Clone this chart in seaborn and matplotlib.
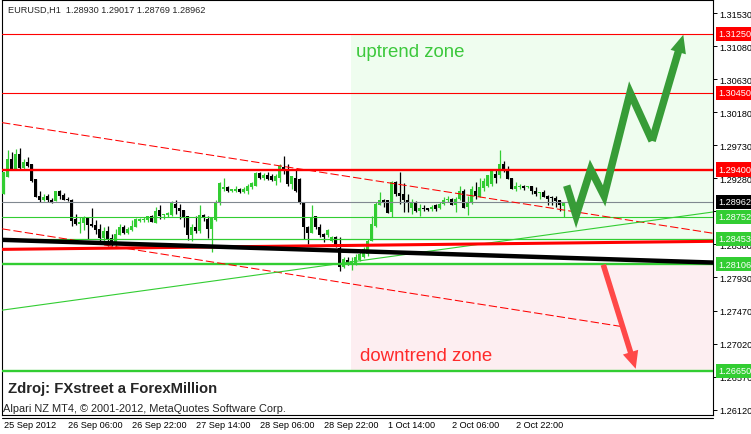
import numpy as np
import pandas as pd
import seaborn as sns
import matplotlib.pyplot as plt
from matplotlib.patches import FancyArrowPatch
from matplotlib.lines import Line2D

# EURUSD H1 candles (oldest first)
opens = [1.2906, 1.2930, 1.2954, 1.2941, 1.2961, 1.2942, 1.2950, 1.2948, 1.2927, 1.2904,
         1.2899, 1.2904, 1.2899, 1.2897, 1.2910, 1.2905, 1.2900, 1.2898, 1.2872, 1.2866,
         1.2867, 1.2875, 1.2866, 1.2864, 1.2859, 1.2846, 1.2856, 1.2846, 1.2838, 1.2851,
         1.2861, 1.2854, 1.2858, 1.2862, 1.2870, 1.2871, 1.2871, 1.2877, 1.2867, 1.2885,
         1.2878, 1.2878, 1.2878, 1.2893, 1.2888, 1.2885, 1.2876, 1.2851, 1.2862, 1.2856,
         1.2878, 1.2873, 1.2859, 1.2871, 1.2894, 1.2913, 1.2916, 1.2910, 1.2910, 1.2914,
         1.2909, 1.2910, 1.2916, 1.2917, 1.2935, 1.2929, 1.2933, 1.2931, 1.2924, 1.2929,
         1.2944, 1.2939, 1.2920, 1.2929, 1.2927, 1.2894, 1.2862, 1.2854, 1.2876, 1.2861,
         1.2852, 1.2850, 1.2842, 1.2848, 1.2833, 1.2807, 1.2817, 1.2812, 1.2810, 1.2816,
         1.2820, 1.2824, 1.2843, 1.2863, 1.2892, 1.2898, 1.2898, 1.2882, 1.2923, 1.2908,
         1.2906, 1.2898, 1.2888, 1.2895, 1.2884, 1.2888, 1.2888, 1.2886, 1.2892, 1.2888,
         1.2893, 1.2898, 1.2900, 1.2892, 1.2900, 1.2911, 1.2889, 1.2895, 1.2911, 1.2903,
         1.2915, 1.2918, 1.2920, 1.2934, 1.2933, 1.2948, 1.2939, 1.2929, 1.2914, 1.2916,
         1.2918, 1.2916, 1.2917, 1.2910, 1.2908, 1.2909, 1.2904, 1.2903, 1.2901, 1.2898,
         1.2890]
highs = [1.2936, 1.2966, 1.2964, 1.2968, 1.2969, 1.2954, 1.2957, 1.2948, 1.2927, 1.2911,
         1.2907, 1.2906, 1.2901, 1.2910, 1.2912, 1.2908, 1.2902, 1.2900, 1.2879, 1.2875,
         1.2877, 1.2875, 1.2888, 1.2871, 1.2865, 1.2861, 1.2863, 1.2852, 1.2859, 1.2866,
         1.2864, 1.2861, 1.2871, 1.2874, 1.2874, 1.2875, 1.2877, 1.2878, 1.2889, 1.2891,
         1.2879, 1.2882, 1.2897, 1.2898, 1.2893, 1.2885, 1.2877, 1.2866, 1.2876, 1.2891,
         1.2879, 1.2877, 1.2875, 1.2898, 1.2923, 1.2928, 1.2918, 1.2914, 1.2917, 1.2915,
         1.2916, 1.2920, 1.2923, 1.2936, 1.2936, 1.2935, 1.2936, 1.2934, 1.2934, 1.2947,
         1.2959, 1.2948, 1.2931, 1.2939, 1.2929, 1.2895, 1.2863, 1.2891, 1.2877, 1.2866,
         1.2854, 1.2859, 1.2849, 1.2849, 1.2848, 1.2820, 1.2820, 1.2820, 1.2825, 1.2827,
         1.2834, 1.2845, 1.2876, 1.2895, 1.2909, 1.2900, 1.2898, 1.2924, 1.2924, 1.2936,
         1.2921, 1.2907, 1.2900, 1.2897, 1.2893, 1.2891, 1.2888, 1.2891, 1.2893, 1.2895,
         1.2902, 1.2904, 1.2901, 1.2903, 1.2917, 1.2914, 1.2904, 1.2918, 1.2923, 1.2929,
         1.2929, 1.2933, 1.2941, 1.2939, 1.2967, 1.2952, 1.2945, 1.2929, 1.2923, 1.2920,
         1.2919, 1.2918, 1.2918, 1.2916, 1.2909, 1.2912, 1.2905, 1.2904, 1.2904, 1.2899,
         1.2896]
lows = [1.2906, 1.2930, 1.2941, 1.2941, 1.2941, 1.2941, 1.2944, 1.2923, 1.2902, 1.2895,
        1.2897, 1.2895, 1.2894, 1.2897, 1.2900, 1.2898, 1.2897, 1.2863, 1.2864, 1.2853,
        1.2857, 1.2845, 1.2861, 1.2852, 1.2843, 1.2843, 1.2836, 1.2836, 1.2834, 1.2850,
        1.2852, 1.2852, 1.2856, 1.2861, 1.2868, 1.2869, 1.2869, 1.2868, 1.2867, 1.2873,
        1.2873, 1.2875, 1.2877, 1.2879, 1.2873, 1.2861, 1.2844, 1.2843, 1.2853, 1.2854,
        1.2870, 1.2846, 1.2828, 1.2870, 1.2891, 1.2911, 1.2909, 1.2909, 1.2909, 1.2908,
        1.2908, 1.2907, 1.2914, 1.2917, 1.2927, 1.2926, 1.2926, 1.2924, 1.2919, 1.2923,
        1.2934, 1.2918, 1.2913, 1.2909, 1.2893, 1.2845, 1.2838, 1.2853, 1.2859, 1.2848,
        1.2841, 1.2848, 1.2841, 1.2834, 1.2802, 1.2806, 1.2809, 1.2803, 1.2809, 1.2815,
        1.2819, 1.2822, 1.2842, 1.2862, 1.2891, 1.2889, 1.2880, 1.2875, 1.2904, 1.2893,
        1.2882, 1.2882, 1.2879, 1.2882, 1.2876, 1.2884, 1.2883, 1.2884, 1.2884, 1.2886,
        1.2891, 1.2895, 1.2891, 1.2882, 1.2898, 1.2888, 1.2878, 1.2893, 1.2900, 1.2902,
        1.2911, 1.2916, 1.2918, 1.2921, 1.2929, 1.2936, 1.2927, 1.2913, 1.2911, 1.2914,
        1.2912, 1.2915, 1.2906, 1.2904, 1.2900, 1.2902, 1.2891, 1.2891, 1.2889, 1.2884,
        1.2875]
closes = [1.2936, 1.2954, 1.2941, 1.2961, 1.2942, 1.2950, 1.2945, 1.2925, 1.2902, 1.2899,
          1.2903, 1.2898, 1.2896, 1.2910, 1.2904, 1.2899, 1.2898, 1.2870, 1.2866, 1.2869,
          1.2875, 1.2864, 1.2863, 1.2858, 1.2846, 1.2856, 1.2845, 1.2837, 1.2852, 1.2861,
          1.2853, 1.2859, 1.2863, 1.2873, 1.2873, 1.2873, 1.2876, 1.2869, 1.2884, 1.2877,
          1.2879, 1.2880, 1.2894, 1.2887, 1.2884, 1.2874, 1.2851, 1.2862, 1.2856, 1.2878,
          1.2874, 1.2859, 1.2874, 1.2895, 1.2921, 1.2916, 1.2910, 1.2913, 1.2914, 1.2909,
          1.2914, 1.2918, 1.2921, 1.2935, 1.2928, 1.2933, 1.2927, 1.2926, 1.2931, 1.2945,
          1.2941, 1.2920, 1.2931, 1.2911, 1.2894, 1.2862, 1.2854, 1.2874, 1.2861, 1.2850,
          1.2848, 1.2857, 1.2848, 1.2836, 1.2807, 1.2818, 1.2812, 1.2815, 1.2821, 1.2825,
          1.2832, 1.2843, 1.2866, 1.2893, 1.2898, 1.2895, 1.2881, 1.2923, 1.2907, 1.2904,
          1.2898, 1.2895, 1.2894, 1.2884, 1.2888, 1.2886, 1.2885, 1.2889, 1.2886, 1.2893,
          1.2898, 1.2900, 1.2892, 1.2900, 1.2911, 1.2888, 1.2895, 1.2913, 1.2904, 1.2916,
          1.2925, 1.2932, 1.2939, 1.2929, 1.2948, 1.2939, 1.2927, 1.2913, 1.2918, 1.2918,
          1.2915, 1.2917, 1.2910, 1.2907, 1.2909, 1.2903, 1.2900, 1.2901, 1.2897, 1.2892,
          1.2896]

time_labels = ["25 Sep 2012", "26 Sep 06:00", "26 Sep 22:00", "27 Sep 14:00", "28 Sep 06:00",
               "28 Sep 22:00", "1 Oct 14:00", "2 Oct 06:00", "2 Oct 22:00"]
time_ticks = [0, 16, 32, 48, 64, 80, 96, 112, 128]
price_ticks = [1.31530, 1.31080, 1.30630, 1.30180, 1.29730, 1.29280, 1.28830,
               1.28380, 1.27930, 1.27470, 1.27020, 1.26570, 1.26120]

red_levels = [1.31250, 1.30450, 1.29400]
green_levels = [1.28752, 1.28453, 1.28106, 1.26650]
last_price = 1.28962

# trend lines: (bar index, price) end points
upper_channel = ([-0.4, 177.3], [1.3004, 1.2853])
lower_channel = ([-0.4, 154.1], [1.2859, 1.2726])
green_trend = ([-0.4, 177.3], [1.2748, 1.2882])
black_trend = ([-0.4, 177.3], [1.2844, 1.2813])
red_trend = ([-0.4, 177.3], [1.2831, 1.2842])

# scenario arrows
up_path_x = [140.75, 143.1, 146.75, 150.1, 156.6, 162.1, 169.9]
up_path_y = [1.2918, 1.2877, 1.2940, 1.2904, 1.3045, 1.2979, 1.3124]
down_arrow_x = [149.9, 158.0]
down_arrow_y = [1.2810, 1.2668]
zone_start = 86.8

GREEN = "#32cd32"
sns.set_style("white")
plt.rcParams["font.family"] = ["Liberation Sans", "DejaVu Sans"]

fig = plt.figure(figsize=(7.51, 4.35), dpi=100)
ax = fig.add_axes([2 / 751, 19 / 435, 711 / 751, 415 / 435])
xmin, xmax = -0.425, 177.325
ax.set_xlim(xmin, xmax)
ax.set_ylim(1.26049, 1.31714)

# zones
ax.fill_between([zone_start, xmax], 1.28453, 1.31250, color="#effdef", lw=0, zorder=0)
ax.fill_between([zone_start, xmax], 1.26650, 1.28106, color="#fdeef1", lw=0, zorder=0)

# candles
df = pd.DataFrame({"open": opens, "high": highs, "low": lows, "close": closes})
df["bar"] = np.arange(len(df))
colors = np.where(df["close"] >= df["open"], GREEN, "black")
ax.vlines(df["bar"], df["low"], df["high"], colors=colors, lw=0.9, zorder=4)
body = (df["close"] - df["open"]).abs().clip(lower=0.0001)
ax.bar(df["bar"], body, bottom=df[["open", "close"]].min(axis=1), width=0.75,
       color=colors, lw=0, zorder=5)

# horizontal levels
ax.axhline(last_price, color="#808890", lw=0.8, zorder=6)
ax.axhline(1.31250, color="red", lw=0.8, zorder=6)
ax.axhline(1.30450, color="red", lw=0.8, zorder=6)
ax.axhline(1.29400, color="red", lw=1.7, zorder=6)
ax.axhline(1.28752, color=GREEN, lw=0.8, zorder=6)
ax.axhline(1.28453, color=GREEN, lw=0.9, zorder=6)
ax.axhline(1.28106, color=GREEN, lw=1.7, zorder=6)
ax.axhline(1.26650, color=GREEN, lw=1.7, zorder=6)

# trend lines
ax.plot(*upper_channel, color="red", lw=0.75, linestyle=(0, (8, 3)), zorder=6)
ax.plot(*lower_channel, color="red", lw=0.75, linestyle=(0, (8, 3)), zorder=6)
sns.lineplot(x=green_trend[0], y=green_trend[1], color=GREEN, lw=0.8, ax=ax, zorder=6)
sns.lineplot(x=red_trend[0], y=red_trend[1], color="red", lw=2.2, ax=ax, zorder=6)
sns.lineplot(x=black_trend[0], y=black_trend[1], color="black", lw=3.2, ax=ax, zorder=6)

# scenario arrows
ax.plot(up_path_x[:-1], up_path_y[:-1], color="#379c37", lw=5.4,
        solid_joinstyle="miter", solid_capstyle="butt", zorder=8)
ax.add_patch(FancyArrowPatch((up_path_x[-2], up_path_y[-2]), (up_path_x[-1], up_path_y[-1]),
                             arrowstyle="simple,tail_width=0.54,head_width=1.15,head_length=1.3",
                             mutation_scale=10, color="#379c37", lw=0,
                             shrinkA=0, shrinkB=0, zorder=8))
ax.add_patch(FancyArrowPatch((down_arrow_x[0], down_arrow_y[0]), (down_arrow_x[1], down_arrow_y[1]),
                             arrowstyle="simple,tail_width=0.4,head_width=1.15,head_length=1.25",
                             mutation_scale=10, color="#ff4848", lw=0,
                             shrinkA=0, shrinkB=0, zorder=8))

# axes styling
for s in ax.spines.values():
    s.set_visible(True)
    s.set_color("black")
    s.set_linewidth(0.8)
ax.yaxis.tick_right()
ax.set_yticks(price_ticks)
ax.set_yticklabels([f"{v:.5f}" for v in price_ticks])
ax.set_xticks(time_ticks)
ax.set_xticklabels(time_labels, ha="left")
ax.tick_params(axis="y", length=2.9, width=0.7, pad=2.0, labelsize=6.6, colors="black")
ax.tick_params(axis="x", length=1.5, width=0.7, pad=2.2, labelsize=6.6, colors="black")
ax.set_xlabel("")
ax.set_ylabel("")

# price labels on the right scale
level_boxes = [(v, "red") for v in red_levels] + [(last_price, "black")] + \
              [(v, GREEN) for v in green_levels]
for v, c in level_boxes:
    ax.annotate(f"{v:.5f}", xy=(1, v), xycoords=("axes fraction", "data"),
                xytext=(3.8, 0), textcoords="offset points", ha="left", va="center",
                fontsize=6.6, color="white", annotation_clip=False, zorder=10,
                bbox=dict(boxstyle="square,pad=0.28", fc=c, ec="none"))

# texts
ax.text(0.0084, 0.9766, "EURUSD,H1  1.28930 1.29017 1.28769 1.28962", transform=ax.transAxes,
        fontsize=6.6, va="center", ha="left")
ax.text(0.498, 0.8754, "uptrend zone", transform=ax.transAxes, fontsize=13.4,
        color="#3cc83c", va="center", ha="left", zorder=9)
ax.text(0.5035, 0.1422, "downtrend zone", transform=ax.transAxes, fontsize=13.4,
        color="#ff2a2a", va="center", ha="left", zorder=9)
ax.text(0.0084, 0.065, "Zdroj: FXstreet a ForexMillion", transform=ax.transAxes,
        fontsize=10.7, fontweight="bold", va="center", ha="left", zorder=9)
ax.text(0.0014, 0.0175, "Alpari NZ MT4, \u00a9 2001-2012, MetaQuotes Software Corp.",
        transform=ax.transAxes, fontsize=7.9, va="center", ha="left", zorder=9)

fig.add_artist(Line2D([2 / 751, 713 / 751], [16 / 435, 16 / 435], color="black", lw=0.8))

fig.savefig("out.png", dpi=100, facecolor="white")
